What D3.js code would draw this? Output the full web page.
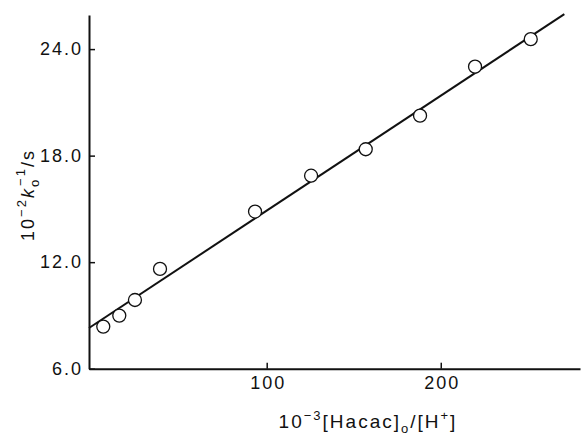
<!DOCTYPE html>
<html>
<head>
<meta charset="utf-8">
<script src="https://cdn.jsdelivr.net/npm/d3@7"></script>
<style>
  body { margin: 0; background: #fff; }
  text { font-family: "Liberation Sans", Arial, sans-serif; fill: #111; }
</style>
</head>
<body>
<div id="chart"></div>
<script>
// data
const xVals = [6.1, 15.3, 24.3, 38.7, 93.3, 125.5, 156.9, 188.1, 219.7, 251.7];
const yVals = [8.37, 8.99, 9.87, 11.62, 14.85, 16.87, 18.36, 20.25, 23.01, 24.56];
// least squares line, as drawn
const fitX = [-2.1, 271];
const fitY = [8.29, 25.97];
const xTicks = [100, 200];
const yTicks = [6, 12, 18, 24];

const width = 581, height = 437;

const svg = d3.select("#chart")
  .append("svg")
    .attr("width", width)
    .attr("height", height);

const x = d3.scaleLinear().domain([-2.1, 280]).range([89, 580]);
const y = d3.scaleLinear().domain([6, 25.92]).range([368.7, 15]);

// y axis
const yAxis = svg.append("g")
  .attr("transform", "translate(" + x.range()[0] + ",0)")
  .call(d3.axisLeft(y)
    .tickValues(yTicks)
    .tickFormat(d3.format(".1f"))
    .tickSizeInner(-6)
    .tickSizeOuter(0)
    .tickPadding(6));

// x axis
const xAxis = svg.append("g")
  .attr("transform", "translate(0," + y.range()[0] + ")")
  .call(d3.axisBottom(x)
    .tickValues(xTicks)
    .tickSizeInner(-6)
    .tickSizeOuter(0)
    .tickPadding(8));

[yAxis, xAxis].forEach(function(g) {
  g.select(".domain").attr("stroke", "#111").attr("stroke-width", 2);
  g.selectAll(".tick line").attr("stroke", "#111").attr("stroke-width", 1.5);
  g.selectAll(".tick text")
    .style("font-size", "18px")
    .style("letter-spacing", "2px")
    .attr("fill", "#111");
});
xAxis.selectAll(".tick text").attr("dx", 1);

// fitted line
const line = d3.line()
  .x(function(d) { return x(d[0]); })
  .y(function(d) { return y(d[1]); });

svg.append("path")
  .datum(d3.zip(fitX, fitY))
  .attr("d", line)
  .attr("fill", "none")
  .attr("stroke", "#111")
  .attr("stroke-width", 2);

// points
svg.append("g")
  .selectAll("circle")
  .data(d3.zip(xVals, yVals))
  .enter()
  .append("circle")
    .attr("cx", function(d) { return x(d[0]); })
    .attr("cy", function(d) { return y(d[1]); })
    .attr("r", 6.5)
    .attr("fill", "white")
    .attr("stroke", "#111")
    .attr("stroke-width", 1.3);

// x label
const xl = svg.append("text")
  .attr("x", 368)
  .attr("y", 428)
  .attr("text-anchor", "middle")
  .style("font-size", "19px")
  .style("letter-spacing", "2px");
xl.append("tspan").text("10");
xl.append("tspan").attr("dy", -8).style("font-size", "13px").text("\u22123");
xl.append("tspan").attr("dy", 8).text("[Hacac]");
xl.append("tspan").attr("dy", 5).style("font-size", "13px").text("o");
xl.append("tspan").attr("dy", -5).text("/[H");
xl.append("tspan").attr("dy", -8).style("font-size", "13px").text("+");
xl.append("tspan").attr("dy", 8).text("]");

// y label
const yl = svg.append("text")
  .attr("transform", "translate(34,195) rotate(-90)")
  .attr("text-anchor", "middle")
  .style("font-size", "18px")
  .style("letter-spacing", "2px");
yl.append("tspan").text("10");
yl.append("tspan").attr("dy", -8).style("font-size", "13px").text("\u22122");
yl.append("tspan").attr("dy", 8).style("font-style", "italic").text("k");
yl.append("tspan").attr("dy", 5).style("font-size", "13px").text("o");
yl.append("tspan").attr("dy", -14).attr("dx", -8).style("font-size", "13px").text("\u22121");
yl.append("tspan").attr("dy", 9).text("/s");
</script>
</body>
</html>
